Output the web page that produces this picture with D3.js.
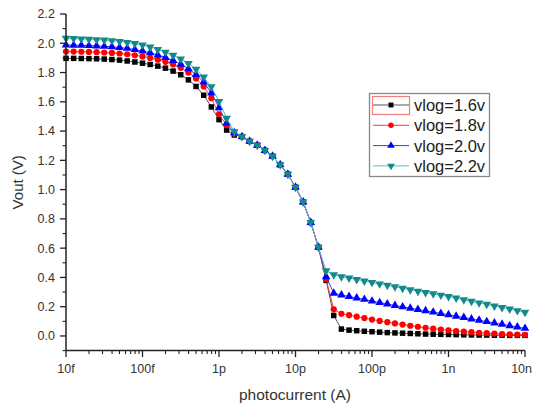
<!DOCTYPE html>
<html>
<head>
<meta charset="utf-8">
<script src="https://cdn.jsdelivr.net/npm/d3@7"></script>
<style>
  body { margin: 0; background: #fff; }
  svg { display: block; font-family: Arial, "Liberation Sans", sans-serif; }
</style>
</head>
<body>
<div id="plot"></div>
<script>
// Data: 61 points, 10 per decade from 10f to 10n
var logStart = -14;
var logStep = 0.1;

var seriesNames = ["vlog=1.6v", "vlog=1.8v", "vlog=2.0v", "vlog=2.2v"];

// shared part of the curve (index 23..33)
var shared = [1.362, 1.330, 1.303, 1.268, 1.228, 1.170, 1.105, 1.016, 0.915, 0.775, 0.606];

var vlog16 = [1.897, 1.897, 1.896, 1.895, 1.894, 1.892, 1.889, 1.885, 1.879, 1.872,
  1.864, 1.855, 1.844, 1.830, 1.810, 1.785, 1.750, 1.705, 1.645, 1.565,
  1.478, 1.407, 1.373].concat(shared, [0.380, 0.140, 0.047,
  0.040, 0.036, 0.032, 0.029, 0.026, 0.023, 0.021, 0.019, 0.017, 0.015,
  0.013, 0.012, 0.011, 0.010, 0.009, 0.008, 0.007, 0.006, 0.006, 0.005,
  0.005, 0.004, 0.004, 0.004]);

var vlog18 = [1.943, 1.943, 1.942, 1.941, 1.939, 1.937, 1.934, 1.930, 1.925, 1.918,
  1.910, 1.900, 1.888, 1.873, 1.855, 1.832, 1.800, 1.760, 1.705, 1.625,
  1.515, 1.440, 1.382].concat(shared, [0.390, 0.182, 0.152,
  0.142, 0.132, 0.122, 0.112, 0.103, 0.094, 0.086, 0.078, 0.070, 0.063,
  0.056, 0.050, 0.044, 0.039, 0.034, 0.030, 0.026, 0.022, 0.019, 0.016,
  0.013, 0.011, 0.009, 0.008]);

var vlog20 = [1.988, 1.987, 1.986, 1.984, 1.982, 1.979, 1.976, 1.971, 1.965, 1.957,
  1.947, 1.935, 1.920, 1.903, 1.882, 1.857, 1.826, 1.786, 1.735, 1.660,
  1.560, 1.455, 1.388].concat(shared, [0.405, 0.292, 0.280,
  0.270, 0.260, 0.250, 0.238, 0.228, 0.218, 0.208, 0.199, 0.190, 0.181,
  0.172, 0.163, 0.154, 0.145, 0.135, 0.126, 0.116, 0.107, 0.098, 0.089,
  0.080, 0.070, 0.061, 0.052]);

var vlog22 = [2.034, 2.032, 2.030, 2.028, 2.025, 2.022, 2.018, 2.013, 2.006, 1.998,
  1.988, 1.975, 1.958, 1.938, 1.918, 1.893, 1.862, 1.822, 1.770, 1.703,
  1.603, 1.487, 1.396].concat(shared, [0.446, 0.418, 0.405,
  0.396, 0.386, 0.376, 0.366, 0.356, 0.346, 0.336, 0.326, 0.316, 0.306,
  0.297, 0.288, 0.279, 0.270, 0.259, 0.248, 0.237, 0.226, 0.216, 0.205,
  0.194, 0.184, 0.173, 0.162]);

var xTickValues = [1e-14, 1e-13, 1e-12, 1e-11, 1e-10, 1e-9, 1e-8];
var xTickLabels = ["10f", "100f", "1p", "10p", "100p", "1n", "10n"];

// Styling
var width = 533, height = 405;
var markerColours = ["#000000", "#ff0000", "#0000ff", "#138a8a"];
var lineColours = ["#555555", "#ff3a3a", "#3a3aff", "#5fbdbd"];
var symbols = [d3.symbolSquare, d3.symbolCircle, d3.symbolTriangle, d3.symbolTriangle];
var symbolSizes = [30, 30, 32, 32];
var symbolRotate = [0, 0, 0, 180];

var svg = d3.select("#plot")
  .append("svg")
  .attr("width", width)
  .attr("height", height)
  .style("background", "#fff");

var x = d3.scaleLog().domain([1e-14, 1e-8]).range([66, 525]);
var y = d3.scaleLinear().domain([-0.1, 2.2]).range([350.6, 14]);

var allSeries = [vlog16, vlog18, vlog20, vlog22].map(function(vals, k) {
  return vals.map(function(v, i) {
    return { x: Math.pow(10, logStart + logStep * i), y: v };
  });
});

var line = d3.line()
  .x(function(d) { return x(d.x); })
  .y(function(d) { return y(d.y); });

// Series lines and markers
allSeries.forEach(function(pts, k) {
  svg.append("path")
    .datum(pts)
    .attr("d", line)
    .attr("fill", "none")
    .attr("stroke", lineColours[k])
    .attr("stroke-width", 1);

  svg.append("g")
    .selectAll("path")
    .data(pts)
    .enter()
    .append("path")
    .attr("d", d3.symbol().type(symbols[k]).size(symbolSizes[k]))
    .attr("transform", function(d) {
      return "translate(" + x(d.x) + "," + y(d.y) + ") rotate(" + symbolRotate[k] + ")";
    })
    .attr("fill", markerColours[k]);
});

// Y axis
var yMajor = d3.range(0, 2.21, 0.2);
var yMinor = d3.range(-0.1, 2.21, 0.2);
var yAxis = svg.append("g").attr("transform", "translate(66,0)");
yAxis.append("line")
  .attr("x1", 0).attr("x2", 0)
  .attr("y1", y(2.2)).attr("y2", y(-0.1))
  .attr("stroke", "#222").attr("stroke-width", 1.5);
yAxis.selectAll(".maj").data(yMajor).enter().append("line")
  .attr("x1", -6).attr("x2", 0)
  .attr("y1", function(d) { return y(d); }).attr("y2", function(d) { return y(d); })
  .attr("stroke", "#222").attr("stroke-width", 1.3);
yAxis.selectAll(".min").data(yMinor).enter().append("line")
  .attr("x1", -3.5).attr("x2", 0)
  .attr("y1", function(d) { return y(d); }).attr("y2", function(d) { return y(d); })
  .attr("stroke", "#222").attr("stroke-width", 1.1);
yAxis.selectAll("text").data(yMajor).enter().append("text")
  .attr("x", -11)
  .attr("y", function(d) { return y(d); })
  .attr("dy", "0.35em")
  .attr("text-anchor", "end")
  .attr("font-size", 12.5)
  .attr("fill", "#333")
  .text(function(d) { return d3.format(".1f")(d); });

// X axis
var xMinor = [];
for (var e = -14; e < -8; e++) {
  for (var m = 2; m <= 9; m++) xMinor.push(m * Math.pow(10, e));
}
var xAxis = svg.append("g").attr("transform", "translate(0," + y(-0.1) + ")");
xAxis.append("line")
  .attr("x1", x(1e-14)).attr("x2", x(1e-8))
  .attr("y1", 0).attr("y2", 0)
  .attr("stroke", "#222").attr("stroke-width", 1.5);
xAxis.selectAll(".maj").data(xTickValues).enter().append("line")
  .attr("x1", function(d) { return x(d); }).attr("x2", function(d) { return x(d); })
  .attr("y1", 0).attr("y2", 6.5)
  .attr("stroke", "#222").attr("stroke-width", 1.3);
xAxis.selectAll(".min").data(xMinor).enter().append("line")
  .attr("x1", function(d) { return x(d); }).attr("x2", function(d) { return x(d); })
  .attr("y1", 0).attr("y2", 3.5)
  .attr("stroke", "#222").attr("stroke-width", 1.1);
xAxis.selectAll("text").data(xTickValues).enter().append("text")
  .attr("x", function(d, i) { return i === xTickValues.length - 1 ? width - 1 : x(d); })
  .attr("y", 22)
  .attr("text-anchor", function(d, i) { return i === xTickValues.length - 1 ? "end" : "middle"; })
  .attr("font-size", 12.5)
  .attr("fill", "#333")
  .text(function(d, i) { return xTickLabels[i]; });

// Axis titles
svg.append("text")
  .attr("transform", "translate(23," + y(1.05) + ") rotate(-90)")
  .attr("text-anchor", "middle")
  .attr("font-size", 15)
  .attr("fill", "#333")
  .text("Vout (V)");
svg.append("text")
  .attr("x", 295)
  .attr("y", 400)
  .attr("text-anchor", "middle")
  .attr("font-size", 15.5)
  .attr("fill", "#333")
  .text("photocurrent (A)");

// Legend
var legend = svg.append("g");
legend.append("rect")
  .attr("x", 369.5).attr("y", 93.5)
  .attr("width", 120).attr("height", 83)
  .attr("fill", "#fff")
  .attr("stroke", "#888").attr("stroke-width", 1.3);
legend.append("rect")
  .attr("x", 372.5).attr("y", 96.5)
  .attr("width", 37).attr("height", 18)
  .attr("fill", "none")
  .attr("stroke", "#f08080").attr("stroke-width", 1.2);

seriesNames.forEach(function(name, k) {
  var ly = 105 + k * 20.3;
  legend.append("line")
    .attr("x1", 373).attr("x2", 409)
    .attr("y1", ly).attr("y2", ly)
    .attr("stroke", lineColours[k]).attr("stroke-width", 1);
  legend.append("path")
    .attr("d", d3.symbol().type(symbols[k]).size(symbolSizes[k] * 0.8))
    .attr("transform", "translate(391," + ly + ") rotate(" + symbolRotate[k] + ")")
    .attr("fill", markerColours[k]);
  legend.append("text")
    .attr("x", 414)
    .attr("y", ly)
    .attr("dy", "0.36em")
    .attr("font-size", 16.5)
    .attr("fill", "#222")
    .text(name);
});
</script>
</body>
</html>
